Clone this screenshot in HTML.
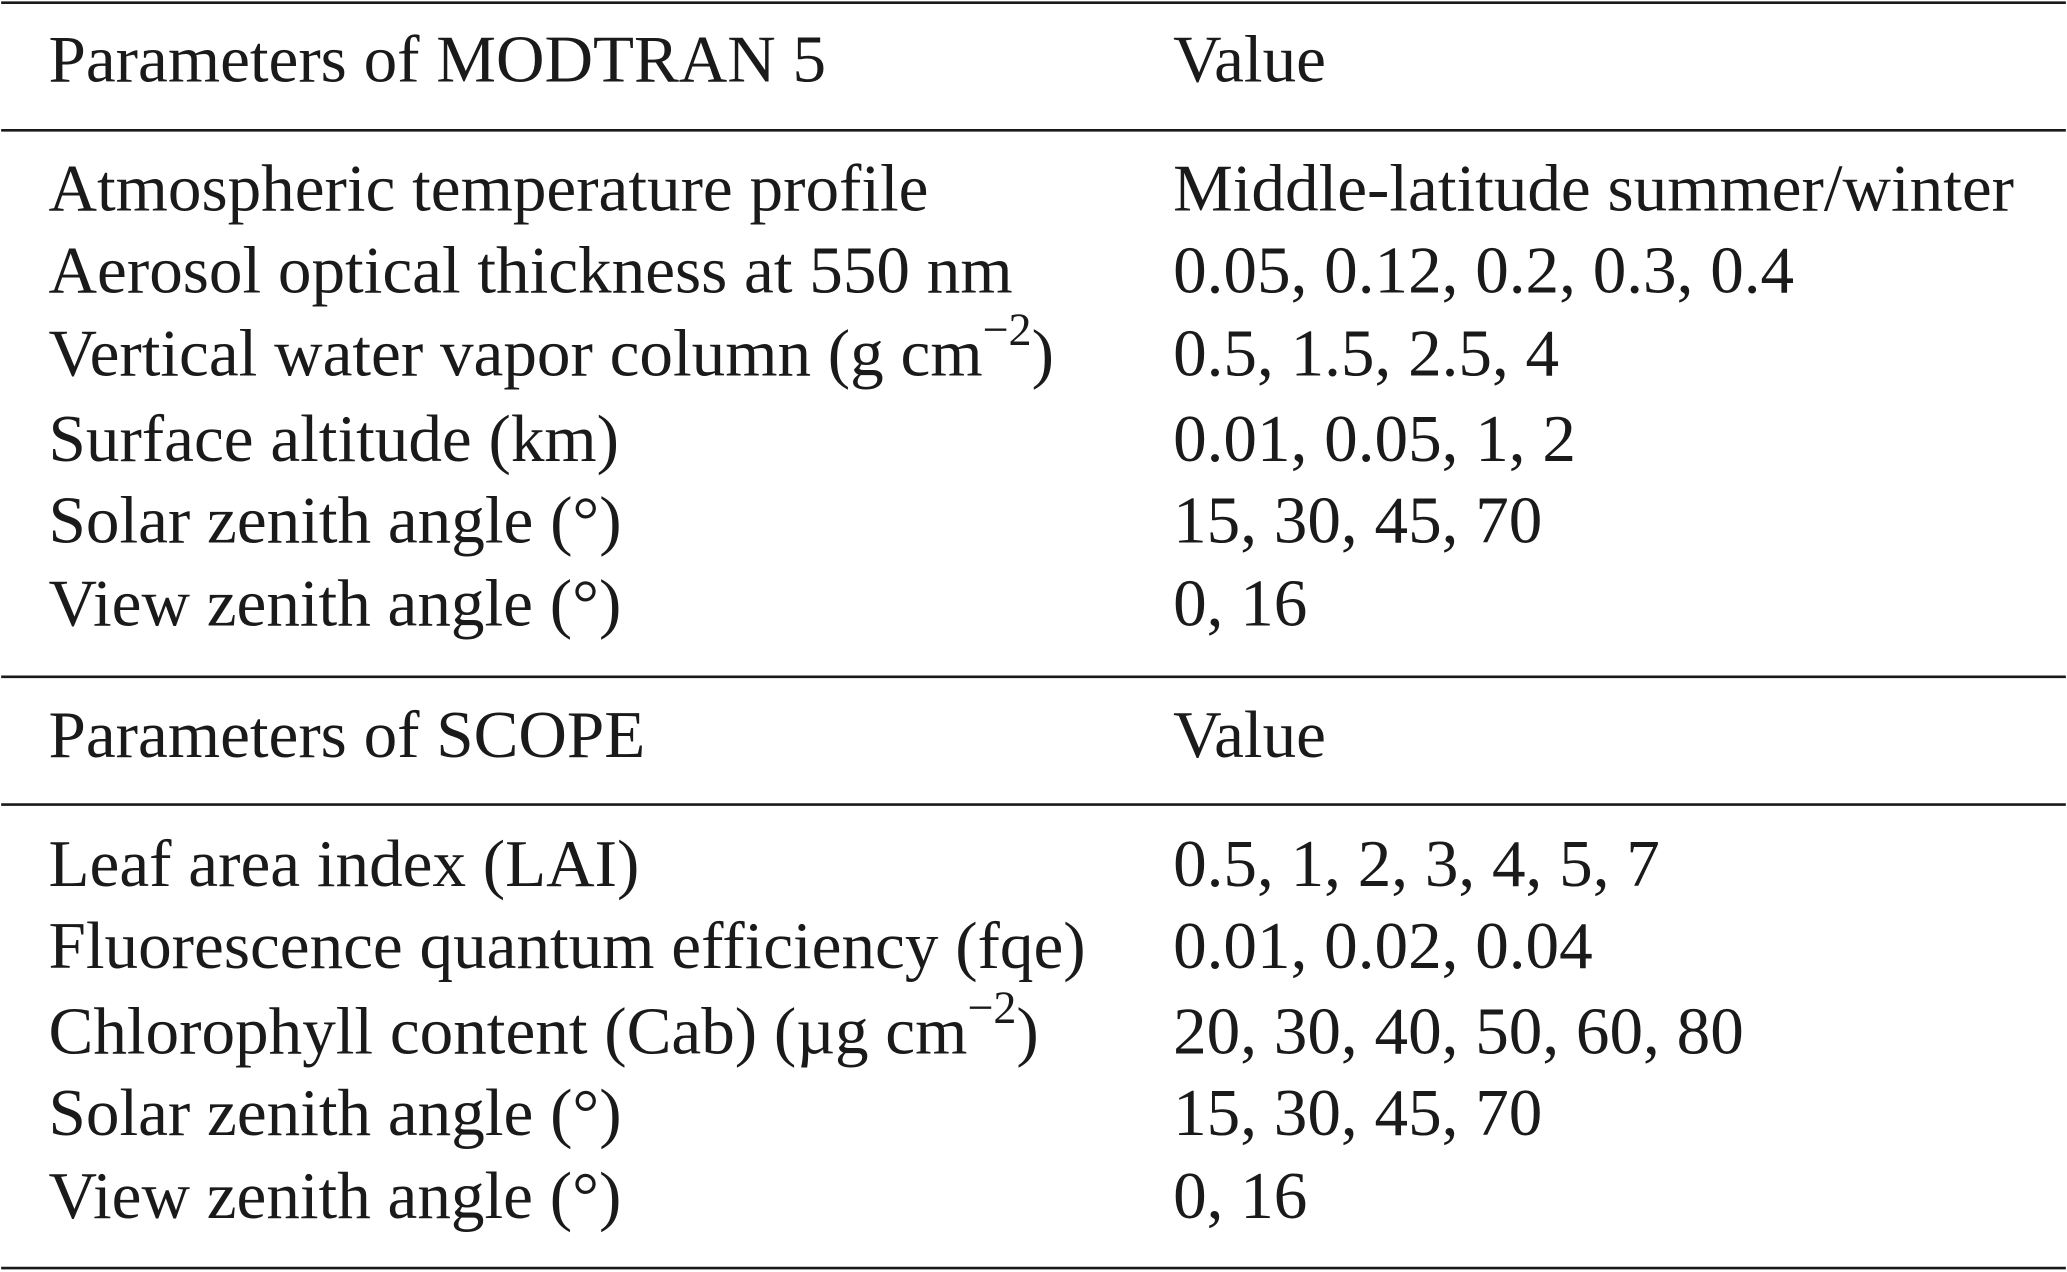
<!DOCTYPE html>
<html>
<head>
<meta charset="utf-8">
<style>
  html, body { margin: 0; padding: 0; background: #fff; }
  svg { display: block; }
  text { font-family: "Liberation Serif", serif; font-size: 51px; fill: #1a1a1a; }
  .sup { font-size: 35px; }
</style>
</head>
<body>
<svg width="2067" height="1272" viewBox="0 0 1568 966" xmlns="http://www.w3.org/2000/svg">
  <g stroke="#1a1a1a" stroke-width="2">
    <line x1="0" y1="2" x2="1568" y2="2"/>
    <line x1="0" y1="99" x2="1568" y2="99"/>
    <line x1="0" y1="514" x2="1568" y2="514"/>
    <line x1="0" y1="611" x2="1568" y2="611"/>
    <line x1="0" y1="963" x2="1568" y2="963"/>
  </g>

  <g>
    <text x="36" y="62">Parameters of MODTRAN 5</text>
    <text x="890" y="62">Value</text>
  </g>

  <g>
    <text x="36" y="160">Atmospheric temperature profile</text>
    <text x="890" y="160">Middle-latitude summer/winter</text>

    <text x="36" y="222">Aerosol optical thickness at 550 nm</text>
    <text x="890" y="222">0.05, 0.12, 0.2, 0.3, 0.4</text>

    <text x="36" y="285">Vertical water vapor column (g cm<tspan class="sup" dy="-23">−2</tspan><tspan dy="23">)</tspan></text>
    <text x="890" y="285">0.5, 1.5, 2.5, 4</text>

    <text x="36" y="350">Surface altitude (km)</text>
    <text x="890" y="350">0.01, 0.05, 1, 2</text>

    <text x="36" y="412">Solar zenith angle (°)</text>
    <text x="890" y="412">15, 30, 45, 70</text>

    <text x="36" y="475">View zenith angle (°)</text>
    <text x="890" y="475">0, 16</text>
  </g>

  <g>
    <text x="36" y="575">Parameters of SCOPE</text>
    <text x="890" y="575">Value</text>
  </g>

  <g>
    <text x="36" y="673">Leaf area index (LAI)</text>
    <text x="890" y="673">0.5, 1, 2, 3, 4, 5, 7</text>

    <text x="36" y="735">Fluorescence quantum efficiency (fqe)</text>
    <text x="890" y="735">0.01, 0.02, 0.04</text>

    <text x="36" y="800">Chlorophyll content (Cab) (µg cm<tspan class="sup" dy="-23">−2</tspan><tspan dy="23">)</tspan></text>
    <text x="890" y="800">20, 30, 40, 50, 60, 80</text>

    <text x="36" y="862">Solar zenith angle (°)</text>
    <text x="890" y="862">15, 30, 45, 70</text>

    <text x="36" y="925">View zenith angle (°)</text>
    <text x="890" y="925">0, 16</text>
  </g>
</svg>
</body>
</html>
